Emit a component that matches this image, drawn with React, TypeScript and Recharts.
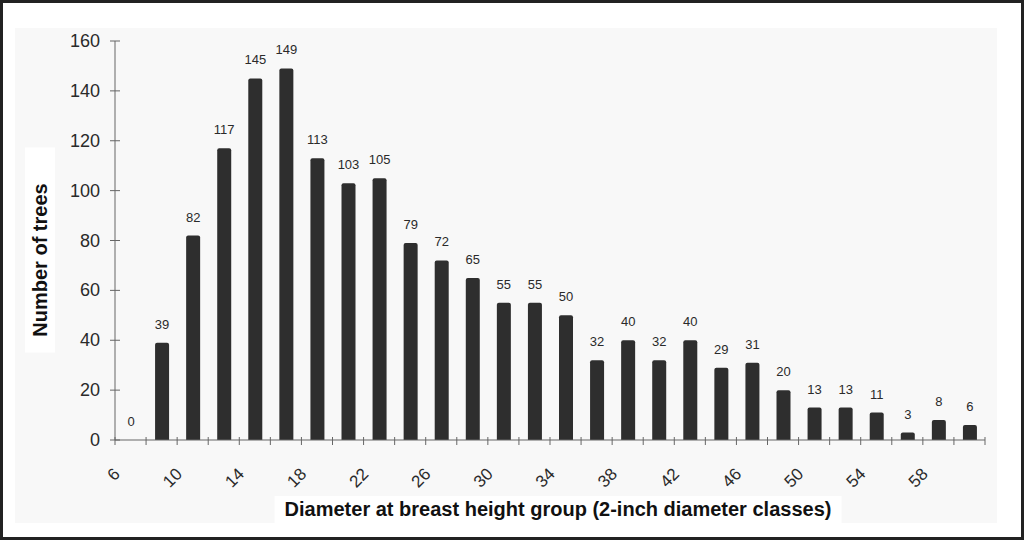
import { BarChart, Bar, XAxis, YAxis, LabelList } from "recharts";

// diameter class (inches) and tree counts
const classes = [6, 8, 10, 12, 14, 16, 18, 20, 22, 24, 26, 28, 30, 32, 34, 36, 38, 40, 42, 44, 46, 48, 50, 52, 54, 56, 58, 60];
const trees = [0, 39, 82, 117, 145, 149, 113, 103, 105, 79, 72, 65, 55, 55, 50, 32, 40, 32, 40, 29, 31, 20, 13, 13, 11, 3, 8, 6];
const tickLabels = ["6", "10", "14", "18", "22", "26", "30", "34", "38", "42", "46", "50", "54", "58"];
const yTicks = [0, 20, 40, 60, 80, 100, 120, 140, 160];
// class boundaries (odd inches) carry the tick marks
const boundaries = [...classes.map((c) => c - 1), classes[classes.length - 1] + 1];

const data = classes.map((d, i) => ({ d, n: trees[i] }));

const FONT = "'Liberation Sans', Arial, sans-serif";

function XTick(props: any) {
  const { x, y, payload } = props;
  const lab = String(payload.value + 1);
  return (
    <g>
      <line x1={x} x2={x} y1={y - 3} y2={y + 5} stroke="#666" />
      {tickLabels.includes(lab) && (
        <text
          x={x + 6}
          y={y + 35}
          transform={`rotate(-45 ${x + 6} ${y + 35})`}
          textAnchor="end"
          fontSize={17}
          fill="#2a2a2a"
          fontFamily={FONT}
        >
          {lab}
        </text>
      )}
    </g>
  );
}

function YTick(props: any) {
  const { x, y, payload } = props;
  return (
    <g>
      <line x1={x - 5} x2={x + 5} y1={y} y2={y} stroke="#666" />
      <text x={x - 15} y={y + 6} textAnchor="end" fontSize={18} fill="#2a2a2a" fontFamily={FONT}>
        {payload.value}
      </text>
    </g>
  );
}

export default function App() {
  return (
    <div
      style={{
        position: "absolute",
        left: 0,
        top: 0,
        width: 1024,
        height: 540,
        background: "#fff",
        border: "3px solid #222",
        boxSizing: "border-box",
        fontFamily: FONT,
      }}
    >
      <div style={{ position: "absolute", left: 12, top: 25, width: 982, height: 495, background: "#f8f8f8" }} />
      <div style={{ position: "absolute", left: -3, top: -3 }}>
        <BarChart width={1024} height={540} data={data} margin={{ top: 41, right: 39, bottom: 20, left: 55 }}>
          <XAxis
            dataKey="d"
            type="number"
            domain={[5, 61]}
            ticks={boundaries}
            interval={0}
            tick={<XTick />}
            tickLine={false}
            tickSize={0}
            tickMargin={0}
            height={80}
            stroke="#666"
          />
          <YAxis
            domain={[0, 160]}
            ticks={yTicks}
            tick={<YTick />}
            tickLine={false}
            tickSize={0}
            tickMargin={0}
            width={60}
            stroke="#666"
          />
          <Bar dataKey="n" fill="#2e2e2e" barSize={14} minPointSize={0.01} radius={[2, 2, 0, 0]} isAnimationActive={false}>
            <LabelList dataKey="n" position="top" offset={14} fontSize={13} fill="#2a2a2a" fontFamily={FONT} />
          </Bar>
        </BarChart>
      </div>
      <div
        style={{
          position: "absolute",
          left: 37,
          top: 247,
          width: 30,
          height: 205,
          transform: "translate(-50%, -50%)",
          background: "#fff",
        }}
      />
      <div
        style={{
          position: "absolute",
          left: 37,
          top: 257,
          transform: "translate(-50%, -50%) rotate(-90deg)",
          fontWeight: "bold",
          fontSize: 20,
          color: "#111",
          whiteSpace: "nowrap",
        }}
      >
        Number of trees
      </div>
      <div
        style={{
          position: "absolute",
          left: 555,
          top: 507,
          transform: "translate(-50%, -50%)",
          fontWeight: "bold",
          fontSize: 20,
          color: "#111",
          whiteSpace: "nowrap",
          background: "#fff",
          padding: "2px 10px 3px",
        }}
      >
        Diameter at breast height group (2-inch diameter classes)
      </div>
    </div>
  );
}
